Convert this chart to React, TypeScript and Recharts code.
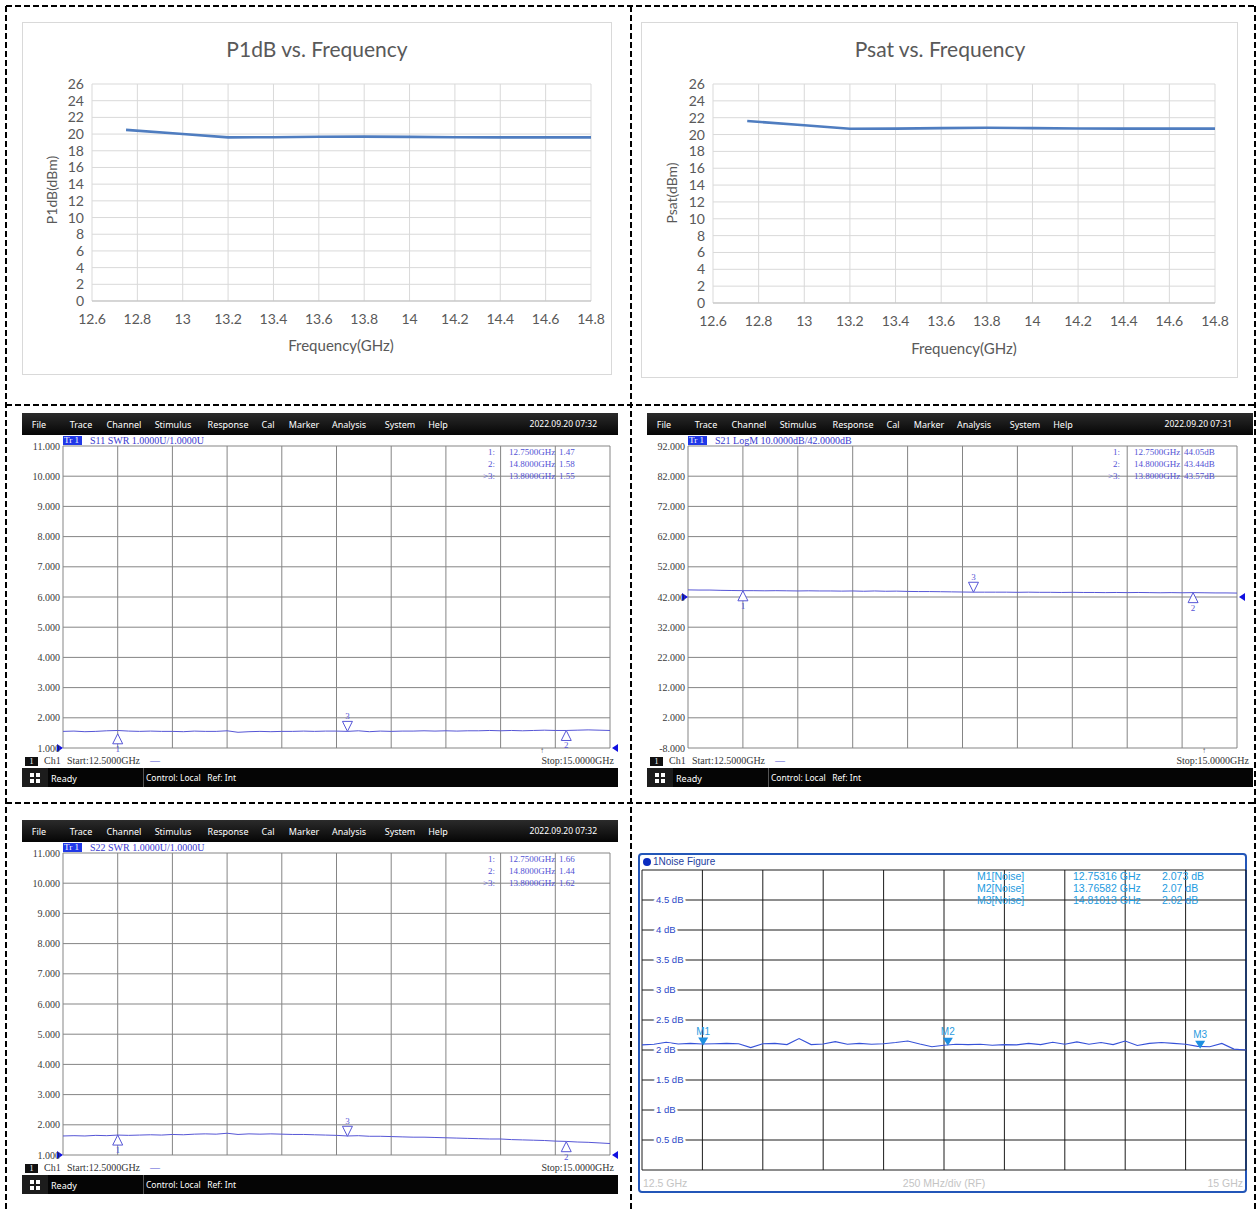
import React from 'react';
import { LineChart, Line, XAxis, YAxis, CartesianGrid, ReferenceDot } from 'recharts';

// ---------------- DATA ----------------
const excelFreqs = [12.75, 13.0, 13.2, 13.4, 13.6, 13.8, 14.0, 14.2, 14.4, 14.6, 14.8];
const p1dbValues = [20.5, 20.0, 19.6, 19.62, 19.68, 19.7, 19.66, 19.62, 19.6, 19.6, 19.6];
const psatValues = [21.6, 21.1, 20.68, 20.7, 20.76, 20.8, 20.76, 20.72, 20.7, 20.7, 20.7];
const excelXTicks = [12.6, 12.8, 13, 13.2, 13.4, 13.6, 13.8, 14, 14.2, 14.4, 14.6, 14.8];
const excelYTicks = [0, 2, 4, 6, 8, 10, 12, 14, 16, 18, 20, 22, 24, 26];

const sweepFreqs = [12.5, 12.55, 12.6, 12.65, 12.7, 12.75, 12.8, 12.85, 12.9, 12.95, 13, 13.05, 13.1, 13.15, 13.2, 13.25, 13.3, 13.35, 13.4, 13.45, 13.5, 13.55, 13.6, 13.65, 13.7, 13.75, 13.8, 13.85, 13.9, 13.95, 14, 14.05, 14.1, 14.15, 14.2, 14.25, 14.3, 14.35, 14.4, 14.45, 14.5, 14.55, 14.6, 14.65, 14.7, 14.75, 14.8, 14.85, 14.9, 14.95, 15];
const s11Swr = [1.55, 1.56, 1.54, 1.55, 1.57, 1.58, 1.56, 1.55, 1.56, 1.55, 1.55, 1.54, 1.56, 1.55, 1.55, 1.57, 1.52, 1.54, 1.55, 1.54, 1.55, 1.55, 1.56, 1.55, 1.56, 1.56, 1.55, 1.57, 1.54, 1.56, 1.55, 1.56, 1.56, 1.57, 1.56, 1.57, 1.56, 1.57, 1.57, 1.58, 1.57, 1.58, 1.57, 1.58, 1.59, 1.58, 1.58, 1.59, 1.6, 1.59, 1.58];
const s21Gain = [44.35, 44.3, 44.3, 44.2, 44.15, 44.1, 44.1, 44.05, 44.1, 44.05, 44.0, 44.05, 44.0, 44.0, 43.95, 44.0, 43.9, 44.0, 43.9, 43.95, 43.85, 43.8, 43.8, 43.75, 43.7, 43.65, 43.6, 43.6, 43.6, 43.6, 43.55, 43.6, 43.55, 43.55, 43.5, 43.55, 43.5, 43.5, 43.45, 43.5, 43.45, 43.5, 43.45, 43.4, 43.45, 43.4, 43.45, 43.4, 43.35, 43.35, 43.3];
const s22Swr = [1.63, 1.64, 1.63, 1.65, 1.64, 1.66, 1.65, 1.66, 1.67, 1.66, 1.68, 1.67, 1.69, 1.7, 1.69, 1.72, 1.68, 1.7, 1.69, 1.7, 1.69, 1.68, 1.68, 1.67, 1.66, 1.65, 1.63, 1.64, 1.62, 1.62, 1.61, 1.6, 1.59, 1.59, 1.58, 1.57, 1.56, 1.55, 1.54, 1.53, 1.53, 1.51, 1.5, 1.49, 1.48, 1.46, 1.45, 1.43, 1.42, 1.4, 1.38];
const nfValues = [2.085, 2.097, 2.13, 2.1, 2.11, 2.1, 2.105, 2.11, 2.105, 2.04, 2.105, 2.11, 2.09, 2.19, 2.09, 2.1, 2.14, 2.095, 2.11, 2.095, 2.105, 2.125, 2.15, 2.1, 2.055, 2.08, 2.095, 2.09, 2.095, 2.08, 2.09, 2.085, 2.11, 2.09, 2.13, 2.095, 2.135, 2.095, 2.125, 2.09, 2.15, 2.075, 2.11, 2.125, 2.11, 2.095, 2.06, 2.055, 2.11, 2.015, 2.0];

const vnaXTicks = [12.5, 12.75, 13, 13.25, 13.5, 13.75, 14, 14.25, 14.5, 14.75, 15];
const swrYTicks = [1, 2, 3, 4, 5, 6, 7, 8, 9, 10, 11];
const s21YTicks = [-8, 2, 12, 22, 32, 42, 52, 62, 72, 82, 92];
const nfYTicks = [0, 0.5, 1, 1.5, 2, 2.5, 3, 3.5, 4, 4.5, 5];
const nfTickLabels = ['0.5 dB', '1 dB', '1.5 dB', '2 dB', '2.5 dB', '3 dB', '3.5 dB', '4 dB', '4.5 dB'];

const s11Markers = [
  { label: '1', freq: 12.75, value: 1.47, dir: 'up' },
  { label: '2', freq: 14.8, value: 1.58, dir: 'up' },
  { label: '3', freq: 13.8, value: 1.55, dir: 'down' },
];
const s21Markers = [
  { label: '1', freq: 12.75, value: 44.05, dir: 'up' },
  { label: '2', freq: 14.8, value: 43.44, dir: 'up' },
  { label: '3', freq: 13.8, value: 43.57, dir: 'down' },
];
const s22Markers = [
  { label: '1', freq: 12.75, value: 1.66, dir: 'up' },
  { label: '2', freq: 14.8, value: 1.44, dir: 'up' },
  { label: '3', freq: 13.8, value: 1.62, dir: 'down' },
];
const nfMarkers = [
  { label: 'M1', freq: 12.75316, value: 2.073 },
  { label: 'M2', freq: 13.76582, value: 2.07 },
  { label: 'M3', freq: 14.81013, value: 2.02 },
];

const s11Rows = [['1:', '12.7500GHz', '1.47'], ['2:', '14.8000GHz', '1.58'], ['>3:', '13.8000GHz', '1.55']];
const s21Rows = [['1:', '12.7500GHz', '44.05dB'], ['2:', '14.8000GHz', '43.44dB'], ['>3:', '13.8000GHz', '43.57dB']];
const s22Rows = [['1:', '12.7500GHz', '1.66'], ['2:', '14.8000GHz', '1.44'], ['>3:', '13.8000GHz', '1.62']];
const nfRows = [['M1[Noise]', '12.75316 GHz', '2.073 dB'], ['M2[Noise]', '13.76582 GHz', '2.07 dB'], ['M3[Noise]', '14.81013 GHz', '2.02 dB']];

const menuItems = ['File', 'Trace', 'Channel', 'Stimulus', 'Response', 'Cal', 'Marker', 'Analysis', 'System', 'Help'];

// ---------------- STYLE / LAYOUT ----------------
const FONT_EXCEL = 'Lato, "Open Sans", sans-serif';
const FONT_VNA = '"Liberation Serif", "DejaVu Serif", serif';
const FONT_UI = '"Noto Sans", "Open Sans", sans-serif';
const FONT_NF = '"Liberation Sans", Arial, sans-serif';
const menuOffsets = [17, 59, 102, 151, 206, 246, 282, 327, 378, 416];
const VNA_TRACE = '#5656d6';

const toSeries = (xs: number[], ys: number[]) => xs.map((x, i) => ({ freq: x, value: ys[i] }));

const abs = (left: number, top: number, extra: React.CSSProperties = {}): React.CSSProperties => ({
  position: 'absolute', left, top, whiteSpace: 'nowrap', ...extra,
});

const EmptyTick = () => <g />;

function CenterText({ x, y, text, size, color, font, rotate }: any) {
  return (
    <div style={abs(x, y, {
      transform: `translate(-50%,-50%)${rotate ? ' rotate(-90deg)' : ''}`,
      fontSize: size, color, fontFamily: font, lineHeight: 1,
    })}>{text}</div>
  );
}

function ExcelChart({ left, top, width, height, plotLeft, plotRight, plotTop, plotBottom, title, titlePos, yLabel, yLabelPos, xLabelPos, values }: any) {
  const data = toSeries(excelFreqs, values);
  return (
    <>
      <div style={abs(left, top, { width, height, border: '1px solid #d9d9d9', boxSizing: 'border-box' })} />
      <div style={abs(left, top, { width, height })}>
        <LineChart width={width} height={height} data={data}
          margin={{ top: plotTop, right: width - plotRight, bottom: 0, left: 0 }}>
          <CartesianGrid stroke="#d9d9d9" />
          <XAxis type="number" dataKey="freq" domain={[12.6, 14.8]} ticks={excelXTicks} allowDataOverflow
            height={height - plotBottom} tickLine={false} tickSize={0} tickMargin={13}
            axisLine={{ stroke: '#bfbfbf' }} interval={0}
            tickFormatter={(v: number) => String(parseFloat(v.toFixed(1)))}
            tick={{ fontSize: 14, fill: '#595959', fontFamily: FONT_EXCEL }} />
          <YAxis type="number" domain={[0, 26]} ticks={excelYTicks} width={plotLeft} interval={0}
            tickLine={false} axisLine={false} tickSize={0} tickMargin={8}
            tick={{ fontSize: 14, fill: '#595959', fontFamily: FONT_EXCEL }} />
          <Line type="linear" dataKey="value" stroke="#4f7dc0" strokeWidth={2.6} dot={false} isAnimationActive={false} />
        </LineChart>
      </div>
      <CenterText x={titlePos[0]} y={titlePos[1]} text={title} size={21} color="#595959" font={FONT_EXCEL} />
      <CenterText x={yLabelPos[0]} y={yLabelPos[1]} text={yLabel} size={14} color="#595959" font={FONT_EXCEL} rotate />
      <CenterText x={xLabelPos[0]} y={xLabelPos[1]} text="Frequency(GHz)" size={15} color="#595959" font={FONT_EXCEL} />
    </>
  );
}

const vnaMarkerShape = (label: string, dir: string) => (props: any) => {
  const { cx, cy } = props;
  if (cx == null || cy == null) return <g />;
  if (dir === 'up') {
    return (
      <g>
        <polygon points={`${cx},${cy} ${cx - 5},${cy + 10} ${cx + 5},${cy + 10}`} fill="#fff" stroke={VNA_TRACE} strokeWidth={1} />
        <text x={cx} y={cy + 18} textAnchor="middle" fontSize={9} fill={VNA_TRACE} fontFamily={FONT_VNA}>{label}</text>
      </g>
    );
  }
  return (
    <g>
      <polygon points={`${cx},${cy} ${cx - 5},${cy - 10} ${cx + 5},${cy - 10}`} fill="#fff" stroke={VNA_TRACE} strokeWidth={1} />
      <text x={cx} y={cy - 12} textAnchor="middle" fontSize={9} fill={VNA_TRACE} fontFamily={FONT_VNA}>{label}</text>
    </g>
  );
};

const refArrowShape = (side: string) => (props: any) => {
  const { cx, cy } = props;
  if (cx == null || cy == null) return <g />;
  const pts = side === 'left'
    ? `${cx - 6},${cy - 4} ${cx},${cy} ${cx - 6},${cy + 4}`
    : `${cx + 8},${cy - 4} ${cx + 2},${cy} ${cx + 8},${cy + 4}`;
  return <polygon points={pts} fill="#1010e0" />;
};

function VnaPanel({ x, y, width, plotRight, date, header, values, yTicks, yDomain, refValue, markers, rows, stopArrow }: any) {
  const data = toSeries(sweepFreqs, values);
  const chartH = 346;
  const txt: React.CSSProperties = { fontFamily: FONT_VNA, fontSize: 10, color: '#5252d4', lineHeight: '10px' };
  const tbl: React.CSSProperties = { ...txt, fontSize: 9 };
  return (
    <>
      <div style={abs(x, y, { width, height: chartH })}>
        <LineChart width={width} height={chartH} data={data}
          margin={{ top: 33, right: width - plotRight, bottom: 10, left: 0 }}>
          <CartesianGrid stroke="#858585" />
          <XAxis type="number" dataKey="freq" domain={[12.5, 15]} ticks={vnaXTicks} height={1}
            tick={EmptyTick} tickLine={false} axisLine={false} interval={0} />
          <YAxis type="number" domain={yDomain} ticks={yTicks} width={41} interval={0}
            tickLine={false} axisLine={false} tickSize={0} tickMargin={3}
            tickFormatter={(v: number) => v.toFixed(3)}
            tick={{ fontSize: 10, fill: '#3a3a3a', fontFamily: FONT_VNA }} />
          <Line type="linear" dataKey="value" stroke={VNA_TRACE} strokeWidth={1} dot={false} isAnimationActive={false} />
          {markers.map((m: any) => (
            <ReferenceDot key={m.label} x={m.freq} y={m.value} r={0} shape={vnaMarkerShape(m.label, m.dir)} />
          ))}
          <ReferenceDot x={12.5} y={refValue} r={0} shape={refArrowShape('left')} />
          <ReferenceDot x={15} y={refValue} r={0} shape={refArrowShape('right')} />
        </LineChart>
      </div>
      {/* menu bar */}
      <div style={abs(x, y, { width, height: 22, background: 'linear-gradient(#2b2b2b, #050505)' })} />
      {menuItems.map((m, i) => (
        <div key={m} style={abs(x + menuOffsets[i], y + 11, { transform: 'translate(-50%,-50%)', color: '#fff', fontSize: 9, fontFamily: FONT_UI, lineHeight: 1 })}>{m}</div>
      ))}
      <div style={abs(x + width - 21, y + 11, { transform: 'translate(-100%,-50%)', color: '#fff', fontSize: 8.5, fontFamily: FONT_UI, lineHeight: 1 })}>{date}</div>
      {/* header */}
      <div style={abs(x + 41, y + 23, { height: 9, width: 19, background: '#2038e8', color: '#fff', fontFamily: FONT_VNA, fontSize: 9, lineHeight: '9px', paddingLeft: 1, boxSizing: 'border-box' })}>Tr 1</div>
      <div style={abs(x + 68, y + 23, { ...txt, color: '#3a3ad0', lineHeight: '9px' })}>{header}</div>
      {/* marker table */}
      {rows.map((r: string[], i: number) => (
        <React.Fragment key={i}>
          <div style={abs(x + 473, y + 34 + i * 12, { ...tbl, transform: 'translateX(-100%)' })}>{r[0]}</div>
          <div style={abs(x + 487, y + 34 + i * 12, tbl)}>{r[1]}</div>
          <div style={abs(x + 537, y + 34 + i * 12, tbl)}>{r[2]}</div>
        </React.Fragment>
      ))}
      {/* channel row */}
      <div style={abs(x + 3, y + 344, { width: 13, height: 9, background: '#111', color: '#fff', fontFamily: FONT_VNA, fontSize: 8, lineHeight: '9px', textAlign: 'center' })}>1</div>
      <div style={abs(x + 22, y + 343, { ...txt, color: '#333' })}>Ch1</div>
      <div style={abs(x + 45, y + 343, { ...txt, color: '#333' })}>Start:12.5000GHz</div>
      <div style={abs(x + 128, y + 343, { ...txt, color: '#5252d4' })}>—</div>
      <div style={abs(x + width - 4, y + 343, { ...txt, color: '#333', transform: 'translateX(-100%)' })}>Stop:15.0000GHz</div>
      {stopArrow != null && (
        <div style={abs(x + stopArrow, y + 333, { ...txt, color: '#555', fontSize: 8 })}>↑</div>
      )}
      {/* status bar */}
      <div style={abs(x, y + 355, { width, height: 19, background: '#050505' })} />
      <div style={abs(x, y + 355, { width: 26, height: 19, background: '#1c1c1c' })} />
      <div style={abs(x + 8, y + 360, { width: 10, height: 10, background: 'linear-gradient(#fff,#fff) 0 0/4px 4px no-repeat, linear-gradient(#fff,#fff) 6px 0/4px 4px no-repeat, linear-gradient(#fff,#fff) 0 6px/4px 4px no-repeat, linear-gradient(#fff,#fff) 6px 6px/4px 4px no-repeat' })} />
      <div style={abs(x + 29, y + 364.5, { transform: 'translateY(-50%)', color: '#fff', fontSize: 9, fontFamily: FONT_UI, lineHeight: 1 })}>Ready</div>
      <div style={abs(x + 121, y + 355, { width: 1, height: 19, background: '#555' })} />
      <div style={abs(x + 124, y + 364.5, { transform: 'translateY(-50%)', color: '#fff', fontSize: 8.5, fontFamily: FONT_UI, lineHeight: 1 })}>Control: Local&nbsp;&nbsp; Ref: Int</div>
    </>
  );
}

const NfTick = (props: any) => {
  const { y, payload } = props;
  const v = payload ? payload.value : 0;
  if (v === 0 || v === 5) return <g />;
  const label = nfTickLabels[nfYTicks.indexOf(v) - 1];
  return (
    <text x={24} y={y} dy="0.35em" textAnchor="start" fontSize={9.5} fill="#2c48c8" fontFamily={FONT_NF}
      stroke="#fff" strokeWidth={5} style={{ paintOrder: 'stroke' }}>{label}</text>
  );
};

const nfMarkerShape = (label: string) => (props: any) => {
  const { cx, cy } = props;
  if (cx == null || cy == null) return <g />;
  return (
    <g>
      <polygon points={`${cx - 5},${cy - 8} ${cx + 5},${cy - 8} ${cx},${cy}`} fill="#1d8fe0" />
      <text x={cx} y={cy - 11} textAnchor="middle" fontSize={10} fill="#2a9be0" fontFamily={FONT_NF}>{label}</text>
    </g>
  );
};

function NoisePanel() {
  const data = toSeries(sweepFreqs, nfValues);
  const cyan = '#1e9be0';
  const t: React.CSSProperties = { fontFamily: FONT_NF, fontSize: 10.5, color: cyan, lineHeight: '12px' };
  return (
    <>
      <div style={abs(638, 853, { width: 609, height: 340, border: '2px solid #2356b8', borderRadius: 4, boxSizing: 'border-box' })} />
      <div style={abs(632, 860, { width: 624, height: 320 })}>
        <LineChart width={624} height={320} data={data} margin={{ top: 10, right: 10, bottom: 9, left: 10 }}>
          <CartesianGrid stroke="#1c1c1c" />
          <XAxis type="number" dataKey="freq" domain={[12.5, 15]} ticks={vnaXTicks} height={1}
            tick={EmptyTick} tickLine={false} axisLine={false} interval={0} />
          <YAxis type="number" domain={[0, 5]} ticks={nfYTicks} width={1} mirror interval={0}
            tickLine={false} axisLine={false} tickSize={0} tickMargin={13} tick={NfTick} />
          <Line type="linear" dataKey="value" stroke="#3652d8" strokeWidth={1.1} dot={false} isAnimationActive={false} />
          {nfMarkers.map((m) => (
            <ReferenceDot key={m.label} x={m.freq} y={m.value} r={0} shape={nfMarkerShape(m.label)} />
          ))}
        </LineChart>
      </div>
      <div style={abs(643, 858, { width: 8, height: 8, borderRadius: 4, background: '#0a2cc0' })} />
      <div style={abs(653, 856, { fontFamily: FONT_NF, fontSize: 10, color: '#1f3f9f', lineHeight: '12px' })}>1Noise Figure</div>
      {nfRows.map((r, i) => (
        <React.Fragment key={i}>
          <div style={abs(977, 870 + i * 12, t)}>{r[0]}</div>
          <div style={abs(1073, 870 + i * 12, t)}>{r[1]}</div>
          <div style={abs(1162, 870 + i * 12, t)}>{r[2]}</div>
        </React.Fragment>
      ))}
      <div style={abs(643, 1177, { fontFamily: FONT_NF, fontSize: 10.5, color: '#c4c4c4', lineHeight: '12px' })}>12.5 GHz</div>
      <div style={abs(944, 1177, { fontFamily: FONT_NF, fontSize: 10.5, color: '#c4c4c4', lineHeight: '12px', transform: 'translateX(-50%)' })}>250 MHz/div (RF)</div>
      <div style={abs(1243, 1177, { fontFamily: FONT_NF, fontSize: 10.5, color: '#c4c4c4', lineHeight: '12px', transform: 'translateX(-100%)' })}>15 GHz</div>
    </>
  );
}

export default function App() {
  return (
    <div style={{ position: 'absolute', left: 0, top: 0, width: 1260, height: 1210, background: '#fff', overflow: 'hidden' }}>
      <ExcelChart left={22} top={22} width={590} height={353} plotLeft={70} plotRight={569} plotTop={62} plotBottom={279}
        title="P1dB vs. Frequency" titlePos={[317, 48]} yLabel="P1dB(dBm)" yLabelPos={[52, 190]} xLabelPos={[341, 345]}
        values={p1dbValues} />
      <ExcelChart left={641} top={22} width={597} height={356} plotLeft={72} plotRight={574} plotTop={62} plotBottom={281}
        title="Psat vs. Frequency" titlePos={[940, 48]} yLabel="Psat(dBm)" yLabelPos={[672, 193]} xLabelPos={[964, 348]}
        values={psatValues} />
      <VnaPanel x={22} y={413} width={596} plotRight={588} date="2022.09.20 07:32" header="S11 SWR 1.0000U/1.0000U"
        values={s11Swr} yTicks={swrYTicks} yDomain={[1, 11]} refValue={1} markers={s11Markers} rows={s11Rows} stopArrow={518} />
      <VnaPanel x={647} y={413} width={606} plotRight={590} date="2022.09.20 07:31" header="S21 LogM 10.0000dB/42.0000dB"
        values={s21Gain} yTicks={s21YTicks} yDomain={[-8, 92]} refValue={42} markers={s21Markers} rows={s21Rows} stopArrow={555} />
      <VnaPanel x={22} y={820} width={596} plotRight={588} date="2022.09.20 07:32" header="S22 SWR 1.0000U/1.0000U"
        values={s22Swr} yTicks={swrYTicks} yDomain={[1, 11]} refValue={1} markers={s22Markers} rows={s22Rows} stopArrow={null} />
      <NoisePanel />
      <svg width={1260} height={1210} style={{ position: 'absolute', left: 0, top: 0, pointerEvents: 'none' }}>
        <g stroke="#000" strokeWidth={2} strokeDasharray="6 3" fill="none">
          <line x1={6} y1={6} x2={1255} y2={6} />
          <line x1={6} y1={6} x2={6} y2={1210} />
          <line x1={1255} y1={6} x2={1255} y2={1210} />
          <line x1={631} y1={6} x2={631} y2={1210} />
          <line x1={6} y1={405} x2={1255} y2={405} />
          <line x1={6} y1={803} x2={1255} y2={803} />
        </g>
      </svg>
    </div>
  );
}
